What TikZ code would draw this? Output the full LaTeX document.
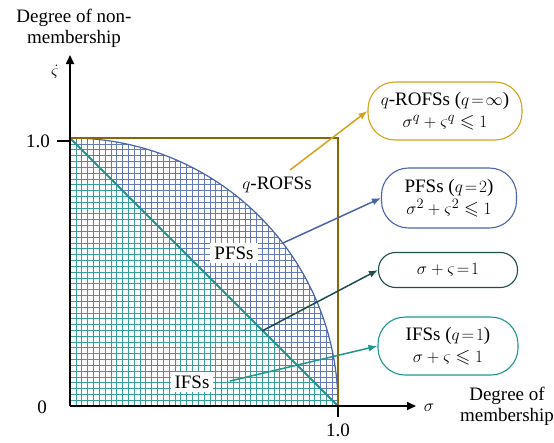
\documentclass[tikz,border=0pt]{standalone}
\usepackage{amsmath,amssymb}
\usepackage{fontspec}
\setmainfont{Liberation Serif}
\usetikzlibrary{arrows.meta,positioning}
\definecolor{circleblue}{HTML}{4A64AC}
\definecolor{squarebrown}{HTML}{8B6508}
\definecolor{goldline}{HTML}{D4A21C}
\definecolor{darkteal}{HTML}{1B4E4C}
\definecolor{tealline}{HTML}{1F968F}

\begin{document}
\begin{tikzpicture}[
  x=1pt, y=-1pt,
  font=\fontsize{19}{21}\selectfont,
  >=Latex,
  axis/.style={-{Triangle[length=9pt,width=8pt]}, line width=1.8pt, black},
  setbox/.style={draw, line width=1.1pt, fill=white,
    align=center, inner sep=2pt},
  tag/.style={fill=white, inner sep=4pt},
  pointer/.style={-{Latex[length=9pt,width=7pt]}, line width=1.5pt}
]
\useasboundingbox (0,0) rectangle (554,442);

% hatched regions, drawn with y pointing up
\begin{scope}[shift={(70,406)}, yscale=-1]
  \begin{scope}
    \clip (0,0) -- (268,0) arc[start angle=0, end angle=90, radius=268] -- cycle;
    \draw[circleblue!85, line width=0.5pt, step=5.826pt] (0,0) grid (268,268);
  \end{scope}
  \begin{scope}
    \clip (0,0) -- (268,0) -- (0,268) -- cycle;
    \fill[white] (0,0) rectangle (268,268);
    \draw[tealline!90, line width=0.5pt, step=5.826pt] (0,0) grid (268,268);
  \end{scope}
  \draw[circleblue, line width=1.2pt] (0,268) arc[start angle=90, end angle=0, radius=268];
  \draw[tealline, line width=1.8pt] (0,268) -- (268,0);
  \draw[squarebrown, line width=1.8pt] (0,268) -- (268,268) -- (268,0);
  \coordinate (qfrom) at (220,236);
  \coordinate (pfrom) at (213,163);
  \coordinate (efrom) at (192,75);
  \coordinate (ifrom) at (160,25);
\end{scope}

% axes and ticks
\coordinate (O) at (70,406);
\draw[axis] (O) -- (416,406);
\draw[axis] (O) -- (70,55);
\draw[line width=1.5pt] (57,141) -- (70,141);
\draw[line width=1.5pt] (338,406) -- (338,417);

\node (yone) at (38,141) {1.0};
\node (zero) at (42,407) {0};
\node (xone) at (338,430) {1.0};
\node (sig) at (429,408) {$\sigma$};
\node[inner sep=0pt] (vsig) at (55,72) {$\dot{\varsigma}$};
\node[align=center, inner sep=1pt] (ylab) at (74,28) {Degree of non-\\membership};
\node[align=center, inner sep=1pt] (xlab) at (507,406) {Degree of\\membership};

% region labels
\node (qlab) at (277,185) {$q$-ROFSs};
\node[tag] (plab) at (234,253) {PFSs};
\node[tag] (ilab) at (192,382) {IFSs};

% set boxes
\node[setbox, draw=goldline, rounded corners=27pt, minimum width=154pt, minimum height=58pt] (qbox) at (445,111)
  {$q$-ROFSs ($q\!=\!\infty$)\\[1pt]$\sigma^q+\varsigma^q\leqslant 1$};
\node[setbox, draw=circleblue, rounded corners=27pt, minimum width=135pt, minimum height=60pt] (pbox) at (449,198)
  {PFSs ($q\!=\!2$)\\[1pt]$\sigma^2+\varsigma^2\leqslant 1$};
\node[setbox, draw=darkteal, rounded corners=17pt, minimum width=139pt, minimum height=35pt] (ebox) at (448,270)
  {$\sigma+\varsigma\!=\!1$};
\node[setbox, draw=tealline, rounded corners=27pt, minimum width=140pt, minimum height=58pt] (ibox) at (448,346)
  {IFSs ($q\!=\!1$)\\[1pt]$\sigma+\varsigma\leqslant 1$};

\foreach \a/\b/\c in {qfrom/qbox/goldline, pfrom/pbox/circleblue,
    efrom/ebox/darkteal, ifrom/ibox/tealline}
  \draw[pointer, draw=\c, fill=\c] (\a) -- (\b.west);

\end{tikzpicture}
\end{document}
